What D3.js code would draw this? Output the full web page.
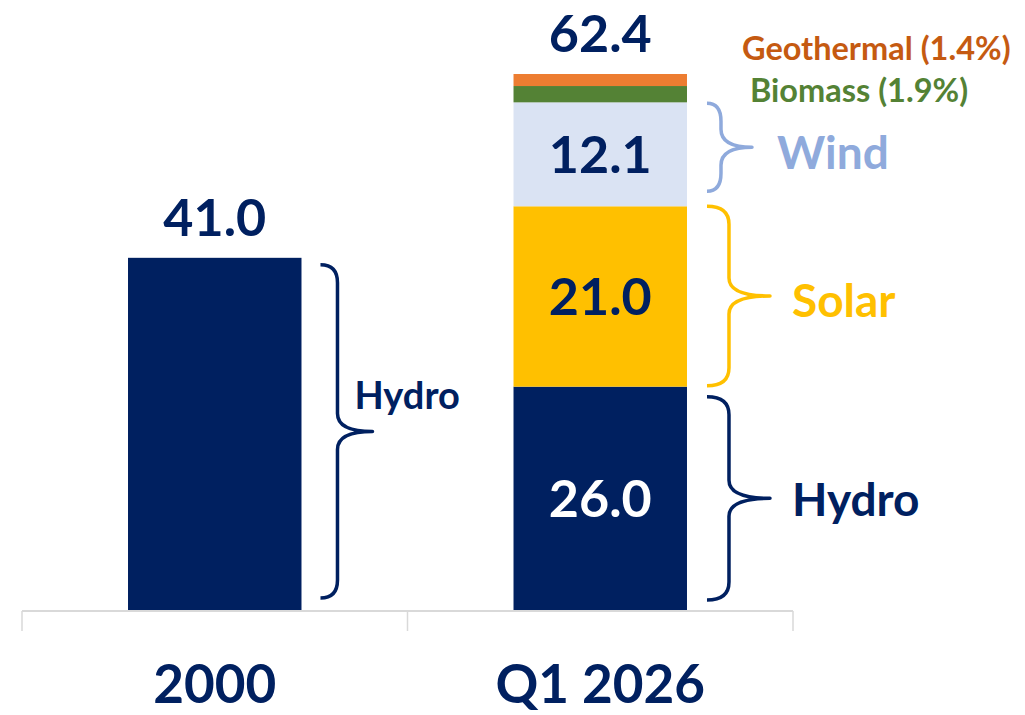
<!DOCTYPE html>
<html>
<head>
<meta charset="utf-8">
<script src="https://cdn.jsdelivr.net/npm/d3@7"></script>
<style>
  html, body { margin: 0; padding: 0; background: #fff; }
  svg { display: block; font-family: Lato, "Open Sans", sans-serif; font-weight: 700; }
</style>
</head>
<body>
<svg id="chart" width="1025" height="715"></svg>
<script>
// ---- data ----
const categories = ["2000", "Q1 2026"];
const seriesNames = ["Hydro", "Solar", "Wind", "Biomass", "Geothermal"];
const hydro = [41.0, 26.0];
const solar = [0, 21.0];
const wind = [0, 12.1];
const biomass = [0, 1.9];
const geothermal = [0, 1.4];
const totals = [41.0, 62.4];
const smallLabels = ["Geothermal (1.4%)", "Biomass (1.9%)"];

const colors = {
  Hydro: "#002060", Solar: "#FFC000", Wind: "#DAE3F3",
  Biomass: "#548235", Geothermal: "#ED7D31"
};
const labelColors = {
  Hydro: "#002060", Solar: "#FFC000", Wind: "#8FAADC",
  Biomass: "#548235", Geothermal: "#C55A11"
};

const rows = categories.map((c, i) => ({
  cat: c, Hydro: hydro[i], Solar: solar[i], Wind: wind[i],
  Biomass: biomass[i], Geothermal: geothermal[i]
}));

const svg = d3.select("#chart");
const x = d3.scaleBand().domain(categories).range([22, 793]).padding(0);
const y = d3.scaleLinear().domain([0, 62.4]).range([610, 74]);
const barW = x.bandwidth() * 0.45;
const barX = c => x(c) + (x.bandwidth() - barW) / 2;

const stack = d3.stack().keys(seriesNames)(rows);

// bars
const layers = svg.append("g").selectAll("g").data(stack).join("g")
  .attr("fill", d => colors[d.key]);
layers.selectAll("rect").data(d => d.map(v => ({ key: d.key, v })))
  .join("rect")
  .filter(d => d.v[1] - d.v[0] > 0)
  .attr("x", d => barX(d.v.data.cat))
  .attr("width", barW)
  .attr("y", d => y(d.v[1]))
  .attr("height", d => y(d.v[0]) - y(d.v[1]));

// axis line + ticks
const axisG = svg.append("g");
axisG.append("line")
  .attr("x1", x.range()[0]).attr("x2", x.range()[1])
  .attr("y1", y(0) + 1).attr("y2", y(0) + 1)
  .attr("stroke", "#D9D9D9").attr("stroke-width", 2);
const tickXs = categories.map(c => x(c)).concat([x.range()[1]]);
axisG.selectAll("line.tick").data(tickXs).join("line")
  .attr("class", "tick")
  .attr("x1", d => d).attr("x2", d => d)
  .attr("y1", y(0) + 1).attr("y2", y(0) + 21)
  .attr("stroke", "#D9D9D9").attr("stroke-width", 1.5);
axisG.selectAll("text").data(categories).join("text")
  .attr("x", d => x(d) + x.bandwidth() / 2)
  .attr("y", 703)
  .attr("text-anchor", "middle")
  .attr("font-size", 53)
  .attr("fill", "#002060")
  .text(d => d);

// totals above bars
svg.append("g").selectAll("text").data(categories).join("text")
  .attr("x", d => x(d) + x.bandwidth() / 2)
  .attr("y", (d, i) => y(totals[i]) - 22)
  .attr("text-anchor", "middle")
  .attr("font-size", 52)
  .attr("fill", "#002060")
  .text((d, i) => totals[i].toFixed(1));

// in-bar labels for Q1 2026 segments
const inside = [
  { key: "Hydro", color: "#FFFFFF" },
  { key: "Solar", color: "#002060" },
  { key: "Wind", color: "#002060" }
];
const ci = 1;
inside.forEach(s => {
  const layer = stack.find(l => l.key === s.key)[ci];
  const mid = (y(layer[0]) + y(layer[1])) / 2;
  svg.append("text")
    .attr("x", x(categories[ci]) + x.bandwidth() / 2)
    .attr("y", mid + 19)
    .attr("text-anchor", "middle")
    .attr("font-size", 52)
    .attr("fill", s.color)
    .text(rows[ci][s.key].toFixed(1));
});

// curly brace path
function brace(xEnd, xLine, xTip, yTop, yBot) {
  const ym = (yTop + yBot) / 2;
  const r = Math.min(18, (yBot - yTop) / 4);
  return `M${xEnd},${yTop} Q${xLine},${yTop} ${xLine},${yTop + r}` +
    ` L${xLine},${ym - r} Q${xLine},${ym} ${xTip},${ym}` +
    ` Q${xLine},${ym} ${xLine},${ym + r}` +
    ` L${xLine},${yBot - r} Q${xLine},${yBot} ${xEnd},${yBot}`;
}

const braces = [
  { ci: 0, key: "Hydro", off: [19, 36, 71], inset: [7, 12], font: 38, tx: 53, ty: -22 },
  { ci: 1, key: "Hydro", off: [20, 42, 83], inset: [10, 10], font: 46, tx: 105, ty: 18 },
  { ci: 1, key: "Solar", off: [20, 42, 83], inset: [0, 1], font: 46, tx: 105, ty: 21 },
  { ci: 1, key: "Wind", off: [20, 34, 65], inset: [1, 15], font: 46, tx: 90, ty: 22 }
];
braces.forEach(b => {
  const layer = stack.find(l => l.key === b.key)[b.ci];
  const right = barX(categories[b.ci]) + barW;
  const yTop = y(layer[1]) + b.inset[0];
  const yBot = y(layer[0]) - b.inset[1];
  svg.append("path")
    .attr("d", brace(right + b.off[0], right + b.off[1], right + b.off[2], yTop, yBot))
    .attr("fill", "none")
    .attr("stroke", labelColors[b.key])
    .attr("stroke-width", 3.5)
    .attr("stroke-linejoin", "round");
  svg.append("text")
    .attr("x", right + b.tx)
    .attr("y", (yTop + yBot) / 2 + b.ty)
    .attr("font-size", b.font)
    .attr("fill", labelColors[b.key])
    .text(b.key);
});

// small series labels
const rightQ = barX(categories[1]) + barW;
svg.append("text")
  .attr("x", rightQ + 55).attr("y", 60)
  .attr("font-size", 32.5)
  .attr("fill", labelColors.Geothermal)
  .text(smallLabels[0]);
svg.append("text")
  .attr("x", rightQ + 63).attr("y", 102)
  .attr("font-size", 32.5)
  .attr("fill", labelColors.Biomass)
  .text(smallLabels[1]);
</script>
</body>
</html>
